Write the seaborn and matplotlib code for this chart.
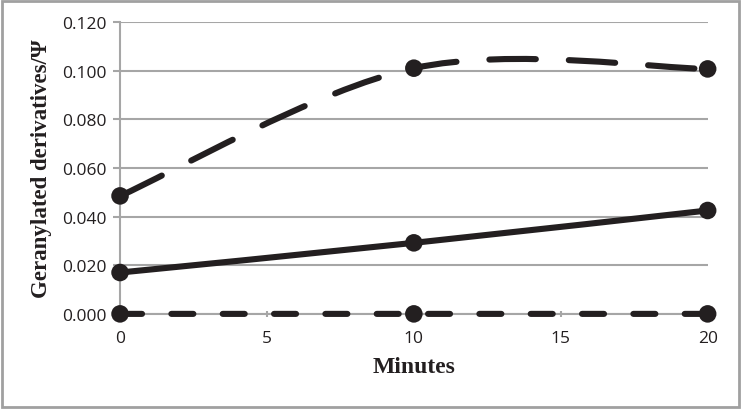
import numpy as np
import pandas as pd
import matplotlib
matplotlib.use("Agg")
import matplotlib.pyplot as plt
from matplotlib.path import Path
from matplotlib.patches import PathPatch, Rectangle
import seaborn as sns

# ---- data ----
minutes = [0, 10, 20]
series_names = ["upper", "middle", "lower"]
upper = [0.0485, 0.1010, 0.1007]
middle = [0.0170, 0.0292, 0.0425]
lower = [0.0, 0.0, 0.0]
x_ticks = [0, 5, 10, 15, 20]
y_ticks = [0.0, 0.02, 0.04, 0.06, 0.08, 0.10, 0.12]
x_label = "Minutes"
y_label = "Geranylated derivatives/Ψ"

sns.set_theme(style="white")
plt.rcParams["font.family"] = ["Open Sans", "DejaVu Sans"]

INK = "#231f20"
GRID = "#a6a6a6"

fig = plt.figure(figsize=(7.41, 4.10), dpi=100)
ax = fig.add_axes([0.162, 0.232, 0.793, 0.712])

df = pd.DataFrame({
    "minutes": minutes * 3,
    "value": upper + middle + lower,
    "series": sum([[n] * len(minutes) for n in series_names], []),
})


def smooth_path(xs, ys):
    # Excel-style smoothed line: cubic Bezier segments through the points
    pts = np.column_stack([xs, ys]).astype(float)
    n = len(pts)
    verts = [pts[0]]
    codes = [Path.MOVETO]
    for i in range(n - 1):
        p0 = pts[i - 1] if i > 0 else pts[i]
        p1 = pts[i]
        p2 = pts[i + 1]
        p3 = pts[i + 2] if i + 2 < n else pts[i + 1]
        c1 = p1 + (p2 - p0) / 6.0
        c2 = p2 - (p3 - p1) / 6.0
        verts += [c1, c2, p2]
        codes += [Path.CURVE4] * 3
    return Path(verts, codes)


lw = 4.4
styles = {
    "upper": (0, (7.6, 5.4)),
    "middle": "solid",
    "lower": (0, (3.6, 4.8)),
}
for name in series_names:
    sub = df[df["series"] == name]
    patch = PathPatch(smooth_path(sub["minutes"], sub["value"]), facecolor="none",
                      edgecolor=INK, lw=lw, linestyle=styles[name],
                      capstyle="round", joinstyle="round", zorder=3, clip_on=False)
    ax.add_patch(patch)

sns.scatterplot(data=df, x="minutes", y="value", hue="series",
                palette={n: INK for n in series_names}, s=160, edgecolor=INK,
                linewidth=0, legend=False, ax=ax, zorder=4, clip_on=False)

ax.set_xlim(0, 20)
ax.set_ylim(0, 0.12)
ax.set_xticks(x_ticks)
ax.set_yticks(y_ticks)
ax.set_xticklabels([str(t) for t in x_ticks])
ax.set_yticklabels([f"{t:.3f}" for t in y_ticks])
ax.yaxis.grid(True, color=GRID, lw=1.5)
ax.set_axisbelow(True)
for s in ["top", "right"]:
    ax.spines[s].set_visible(False)
ax.spines["left"].set_color(GRID)
ax.spines["left"].set_linewidth(1.5)
ax.spines["bottom"].set_color(GRID)
ax.spines["bottom"].set_linewidth(1.5)
ax.tick_params(axis="y", length=5, width=1.5, color=GRID, labelsize=12.5,
               labelcolor=INK, pad=5, left=True)
ax.tick_params(axis="x", length=5, width=1.5, color=GRID, labelsize=12.5,
               labelcolor=INK, pad=9, bottom=True, direction="inout")

ax.set_xlabel(x_label, family="Liberation Serif", fontweight="bold", fontsize=17,
              color=INK, labelpad=7)
ax.set_ylabel(y_label, family="Liberation Serif", fontweight="bold", fontsize=16.5,
              color=INK, labelpad=7)

fig.patches.append(Rectangle((0.003, 0.005), 0.994, 0.99, transform=fig.transFigure,
                             fill=False, edgecolor="#a0a0a0", lw=2))

fig.savefig("out.png", dpi=100)
